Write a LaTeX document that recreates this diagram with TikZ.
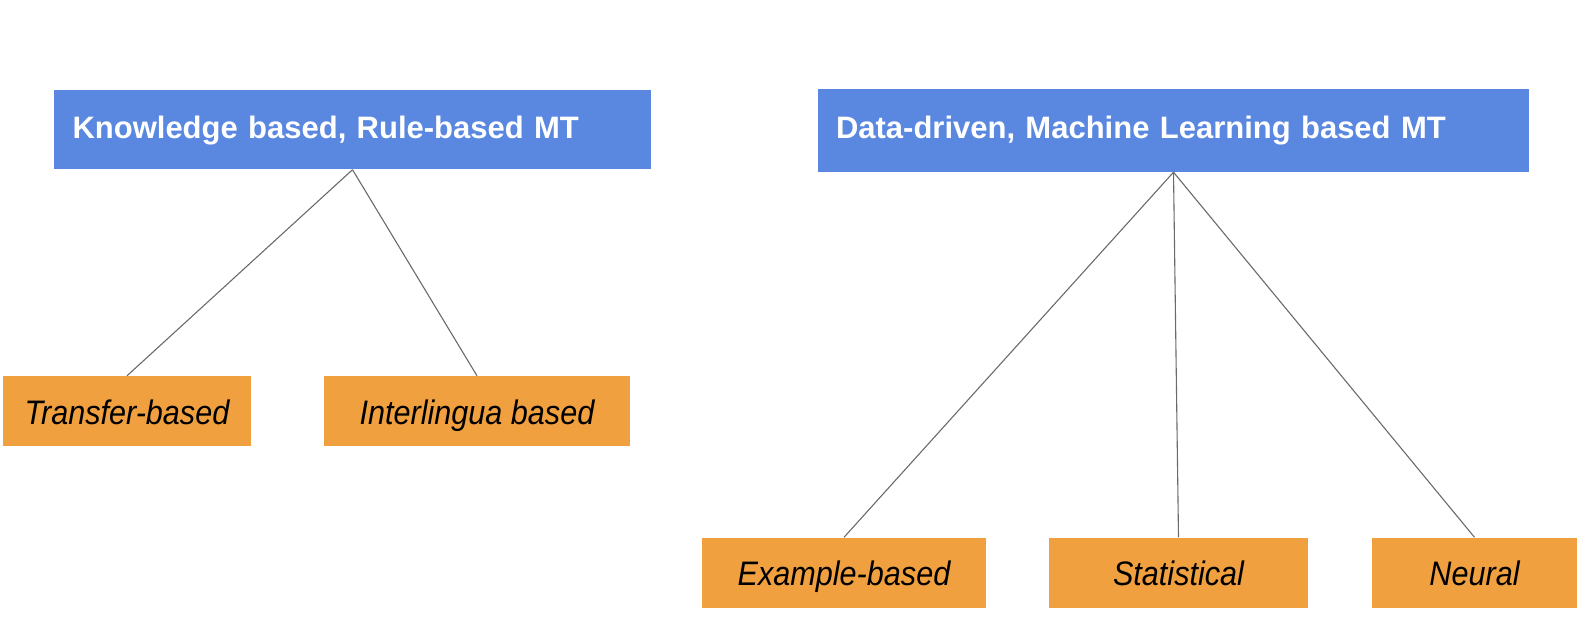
\documentclass[tikz,border=0pt]{standalone}
\usepackage{fontspec}
\setsansfont{Liberation Sans}
\newfontfamily\leaffont{Liberation Sans}[FakeStretch=0.9]
\usepackage{tikz}

\definecolor{mtblue}{HTML}{5A88E0}
\definecolor{mtorange}{HTML}{F0A03E}
\definecolor{mtline}{HTML}{6A6A6A}

\begin{document}
\begin{tikzpicture}[x=1pt,y=-1pt,
        headbox/.style={fill=mtblue, text=white, inner sep=0pt, align=left,
            text height=24pt, text depth=7.4pt,
            font=\sffamily\bfseries\fontsize{31}{36}\selectfont},
        leafbox/.style={fill=mtorange, text=black, inner sep=0pt,
            text height=30pt, text depth=4pt,
            font=\leaffont\itshape\fontsize{34}{40}\selectfont},
        link/.style={draw=mtline, line width=1.1pt}]
        \useasboundingbox (0,0) rectangle (1594,636);

        % top boxes
        \node[headbox, minimum width=597, minimum height=79, text width=560]
            (rule) at (352.5,130) {Knowledge based, Rule-based MT};
        \node[headbox, minimum width=711, minimum height=83, text width=675]
            (data) at (1173.5,130.5) {Data-driven, Machine Learning based MT};

        % leaves
        \node[leafbox, minimum width=248, minimum height=70] (transfer) at (127,411) {Transfer-based};
        \node[leafbox, minimum width=306, minimum height=70] (inter) at (477,411) {Interlingua based};
        \node[leafbox, minimum width=284, minimum height=70] (example) at (844,572.5) {Example-based};
        \node[leafbox, minimum width=259, minimum height=70] (stat) at (1178.5,572.5) {Statistical};
        \node[leafbox, minimum width=205, minimum height=70] (neural) at (1474.5,572.5) {Neural};

        \draw[link] (rule.south) -- (transfer.north);
        \draw[link] (rule.south) -- (inter.north);
        \draw[link] (data.south) -- (example.north);
        \draw[link] (data.south) -- (stat.north);
        \draw[link] (data.south) -- (neural.north);
    \end{tikzpicture}
\end{document}
